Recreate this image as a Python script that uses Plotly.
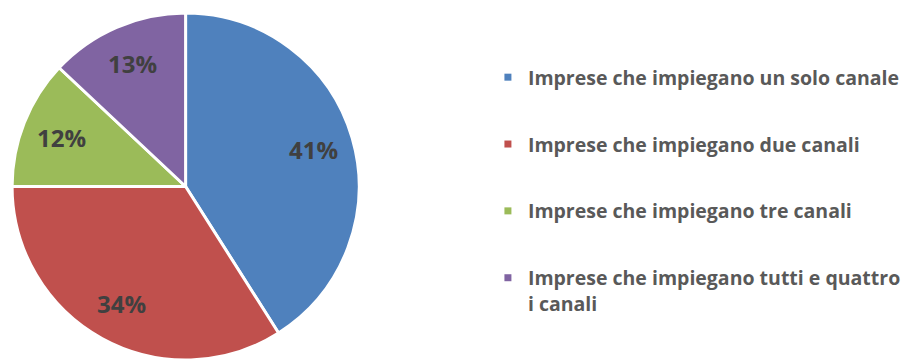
import math
import plotly.graph_objects as go

# Share of firms by number of sales channels used
categories = [
    "Imprese che impiegano un solo canale",
    "Imprese che impiegano due canali",
    "Imprese che impiegano tre canali",
    "Imprese che impiegano tutti e quattro<br>i canali",
]
shares = [41, 34, 12, 13]
colors = ["#4F81BD", "#C0504D", "#9BBB59", "#8064A2"]

W, H = 906, 360
FONT = "Open Sans"

# Pie geometry in pixels (margins are zero, so paper == page)
cx_px = 186
top_px = 13
r_px = (H - top_px) / 2
cy_px = top_px + r_px

fig = go.Figure()

fig.add_trace(go.Pie(
    labels=categories,
    values=shares,
    sort=False,
    direction="clockwise",
    rotation=0,
    marker=dict(colors=colors, line=dict(color="white", width=3)),
    textinfo="none",
    hoverinfo="label+percent",
    showlegend=False,
    domain=dict(x=[(cx_px - r_px - 1) / W, (cx_px + r_px + 1) / W],
                y=[0, 1 - top_px / H]),
))

# Legend entries: one small square per category
for name, col in zip(categories, colors):
    fig.add_trace(go.Scatter(
        x=[None], y=[None], mode="markers",
        marker=dict(symbol="square", size=7, color=col, line=dict(width=0)),
        name=name, legendgroup=name, showlegend=True, hoverinfo="skip",
    ))

# Percentage labels placed at each slice's mid-angle
total = sum(shares)
cum = 0
for s in shares:
    mid = (cum + s / 2) / total * 2 * math.pi
    cum += s
    lx = cx_px + 0.77 * r_px * math.sin(mid)
    ly = cy_px - 0.77 * r_px * math.cos(mid)
    fig.add_annotation(
        x=lx / W, y=1 - ly / H, xref="paper", yref="paper",
        text=f"{s}%", showarrow=False,
        xanchor="center", yanchor="middle",
        font=dict(family=FONT, size=24, color="#404040", weight="bold"),
    )

fig.update_layout(
    width=W, height=H,
    margin=dict(l=0, r=0, t=0, b=0),
    paper_bgcolor="white", plot_bgcolor="white",
    xaxis=dict(visible=False), yaxis=dict(visible=False),
    legend=dict(
        x=489 / W, y=1 - 58 / H, xanchor="left", yanchor="top",
        font=dict(family=FONT, size=19.5, color="#595959", weight="bold"),
        tracegroupgap=38.5, valign="top", itemwidth=30,
        bgcolor="rgba(0,0,0,0)", borderwidth=0,
    ),
    showlegend=True,
)

fig.write_html("out.html")
